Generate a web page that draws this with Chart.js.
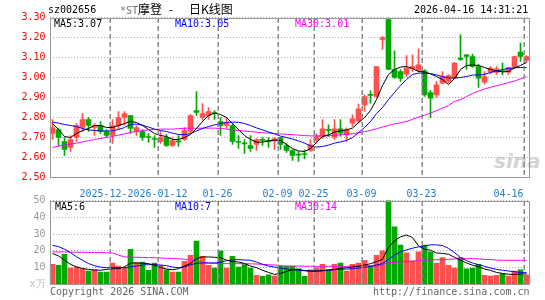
<!DOCTYPE html>
<html><head><meta charset="utf-8">
<script src="https://cdn.jsdelivr.net/npm/chart.js@4/dist/chart.umd.min.js"></script>
<style>
html,body{margin:0;padding:0;background:#fff;}
#wrap{position:relative;width:545px;height:300px;overflow:hidden;background:#fff;}
canvas{position:absolute;left:0;top:0;}
.m{position:absolute;white-space:pre;font-family:"DejaVu Sans Mono",monospace;font-size:10px;line-height:12px;}
.c{position:absolute;white-space:pre;font-family:"Noto Sans CJK SC","DejaVu Sans Mono",sans-serif;font-size:12px;line-height:14px;color:#000;}
</style></head><body>
<div id="wrap">
<div class="m" style="left:494px;top:149px;font-family:'DejaVu Sans',sans-serif;font-size:20px;line-height:24px;font-weight:bold;font-style:italic;color:rgba(200,200,200,0.8)">sina</div>
<canvas id="price" width="545" height="300"></canvas>
<canvas id="vol" width="545" height="300"></canvas>
<div class="m" style="left:48px;top:4px;color:#000">sz002656</div>
<div class="c" style="left:120px;top:2px"><span style="color:#777;font-family:'DejaVu Sans Mono',monospace;font-size:10px">*ST</span>摩登</div>
<div class="c" style="left:169px;top:2px">-</div>
<div class="c" style="left:189px;top:2px">日K线图</div>
<div class="m" style="left:414px;top:4px;color:#000">2026-04-16 14:31:21</div>
<div class="m" style="left:54px;top:17.5px;color:#000">MA5:3.07</div>
<div class="m" style="left:175px;top:17.5px;color:#0000ff">MA10:3.05</div>
<div class="m" style="left:295px;top:17.5px;color:#ff00ff">MA30:3.01</div>
<div class="m" style="left:55px;top:200.5px;color:#000">MA5:6</div>
<div class="m" style="left:175px;top:200.5px;color:#0000ff">MA10:7</div>
<div class="m" style="left:295px;top:200.5px;color:#ff00ff">MA30:14</div>
<div class="m" style="left:50px;top:285.5px;color:#666">Copyright 2026 SINA.COM</div>
<div class="m" style="left:373px;top:285.5px;color:#666">http://finance.sina.com.cn</div>
</div>
<script>
const dates = ['2025-12-15','2025-12-16','2025-12-17','2025-12-18','2025-12-19','2025-12-22','2025-12-23','2025-12-24','2025-12-25','2025-12-26',
'2025-12-29','2025-12-30','2025-12-31','2026-01-05','2026-01-06','2026-01-07','2026-01-08','2026-01-09','2026-01-12','2026-01-13',
'2026-01-14','2026-01-15','2026-01-16','2026-01-19','2026-01-20','2026-01-21','2026-01-22','2026-01-23','2026-01-26','2026-01-27',
'2026-01-28','2026-01-29','2026-01-30','2026-02-02','2026-02-03','2026-02-04','2026-02-05','2026-02-06','2026-02-09','2026-02-10',
'2026-02-11','2026-02-12','2026-02-13','2026-02-24','2026-02-25','2026-02-26','2026-02-27','2026-03-02','2026-03-03','2026-03-04',
'2026-03-05','2026-03-06','2026-03-09','2026-03-10','2026-03-11','2026-03-12','2026-03-13','2026-03-16','2026-03-17','2026-03-18',
'2026-03-19','2026-03-20','2026-03-23','2026-03-24','2026-03-25','2026-03-26','2026-03-27','2026-03-30','2026-03-31','2026-04-01',
'2026-04-02','2026-04-03','2026-04-07','2026-04-08','2026-04-09','2026-04-10','2026-04-13','2026-04-14','2026-04-15','2026-04-16'];

const tickDates = ['2025-12-29','2026-01-12','2026-01-26','2026-02-09','2026-02-25','2026-03-09','2026-03-23','2026-04-16'];
const tickTexts = ['2025-12-29','2026-01-12','01-26','02-09','02-25','03-09','03-23','04-16'];

const opens = [2.72,2.74,2.68,2.65,2.70,2.75,2.79,2.75,2.76,2.73,
2.71,2.76,2.80,2.81,2.73,2.73,2.702,2.695,2.68,2.70,
2.66,2.682,2.69,2.73,2.835,2.80,2.81,2.825,2.78,2.76,
2.76,2.68,2.672,2.66,2.665,2.69,2.685,2.683,2.70,2.66,
2.635,2.615,2.619,2.635,2.685,2.705,2.74,2.70,2.743,2.713,
2.772,2.783,2.863,2.915,2.905,3.19,3.29,3.04,3.03,3.017,
3.043,3.035,3.033,2.925,2.913,2.972,2.98,2.997,3.097,3.113,
3.105,3.055,2.977,3.027,3.025,3.035,3.027,3.052,3.127,3.085];

const highs = [2.79,2.745,2.70,2.71,2.77,2.82,2.80,2.77,2.78,2.74,
2.79,2.83,2.83,2.81,2.76,2.74,2.72,2.71,2.73,2.715,
2.70,2.71,2.75,2.815,2.93,2.87,2.85,2.835,2.80,2.80,
2.77,2.71,2.69,2.71,2.695,2.70,2.70,2.70,2.70,2.67,
2.64,2.63,2.638,2.69,2.72,2.79,2.763,2.79,2.79,2.748,
2.813,2.867,2.913,2.933,3.055,3.205,3.30,3.133,3.04,3.11,
3.113,3.143,3.04,2.935,2.98,3.03,3.013,3.075,3.213,3.115,
3.117,3.067,3.03,3.055,3.055,3.072,3.05,3.107,3.172,3.11];

const lows = [2.69,2.66,2.61,2.63,2.68,2.73,2.73,2.71,2.72,2.70,
2.67,2.74,2.76,2.72,2.71,2.685,2.675,2.65,2.67,2.655,
2.655,2.655,2.685,2.72,2.81,2.785,2.79,2.79,2.71,2.745,
2.665,2.645,2.62,2.63,2.635,2.66,2.65,2.64,2.64,2.625,
2.585,2.58,2.593,2.63,2.672,2.695,2.705,2.69,2.705,2.68,
2.755,2.772,2.83,2.872,2.90,3.14,3.04,2.995,2.98,3.005,
3.03,3.03,2.905,2.80,2.90,2.97,2.972,2.995,3.085,3.04,
3.05,2.95,2.967,3.02,3.015,3.013,3.015,3.047,3.08,3.075];

const closes = [2.75,2.70,2.64,2.69,2.76,2.79,2.76,2.76,2.73,2.71,
2.76,2.80,2.82,2.745,2.75,2.70,2.70,2.69,2.70,2.66,
2.685,2.678,2.735,2.81,2.825,2.82,2.83,2.82,2.76,2.775,
2.68,2.675,2.668,2.645,2.69,2.686,2.681,2.693,2.665,2.635,
2.61,2.612,2.615,2.663,2.705,2.743,2.736,2.743,2.722,2.738,
2.793,2.843,2.905,2.911,3.055,3.20,3.04,3.00,2.995,3.047,
3.055,3.063,2.913,2.897,2.963,3.005,3.01,3.072,3.09,3.105,
3.055,2.997,3.005,3.047,3.043,3.03,3.05,3.105,3.105,3.105];

const ma5 = [2.77,2.74,2.705,2.70,2.72,2.735,2.745,2.76,2.76,2.75,
2.75,2.76,2.77,2.78,2.775,2.76,2.74,2.72,2.71,2.705,
2.69,2.69,2.70,2.715,2.745,2.78,2.81,2.822,2.815,2.80,
2.77,2.74,2.71,2.69,2.677,2.677,2.682,2.687,2.685,2.665,
2.645,2.633,2.63,2.645,2.675,2.705,2.713,2.727,2.733,2.738,
2.747,2.775,2.80,2.835,2.89,2.96,3.015,3.04,3.052,3.055,
3.045,3.03,3.028,3.018,3.005,2.99,2.965,2.995,3.04,3.06,
3.063,3.06,3.05,3.04,3.033,3.028,3.03,3.048,3.06,3.075];

const ma10 = [2.777,2.772,2.765,2.76,2.755,2.745,2.738,2.735,2.733,2.733,
2.733,2.74,2.75,2.765,2.767,2.762,2.752,2.742,2.735,2.73,
2.722,2.715,2.714,2.72,2.733,2.745,2.755,2.763,2.77,2.776,
2.777,2.776,2.77,2.76,2.748,2.738,2.728,2.718,2.707,2.70,
2.692,2.683,2.672,2.658,2.652,2.655,2.662,2.672,2.678,2.685,
2.70,2.724,2.75,2.78,2.82,2.85,2.89,2.925,2.96,2.99,
3.015,3.022,3.022,3.02,3.013,3.005,2.998,2.997,3.0,3.005,
3.012,3.013,3.015,3.025,3.033,3.04,3.045,3.048,3.05,3.05];

const ma30 = [2.65,2.657,2.662,2.667,2.672,2.678,2.684,2.69,2.695,2.70,
2.705,2.712,2.718,2.725,2.73,2.735,2.738,2.74,2.742,2.742,
2.742,2.744,2.746,2.747,2.746,2.747,2.747,2.747,2.745,2.742,
2.738,2.735,2.732,2.73,2.727,2.724,2.722,2.72,2.718,2.716,
2.714,2.712,2.71,2.708,2.708,2.708,2.709,2.711,2.713,2.716,
2.719,2.724,2.729,2.735,2.744,2.752,2.761,2.768,2.774,2.78,
2.791,2.802,2.811,2.822,2.834,2.847,2.86,2.88,2.89,2.905,
2.92,2.932,2.943,2.951,2.959,2.966,2.975,2.982,2.993,3.005];

const volumes = [12,11.4,18,9.8,10.4,9.4,8,8.8,7.4,7.4,
12.8,11,10,21,13,13.4,8.4,12.8,11.4,8.8,
7.4,7.4,13.8,17.4,25.8,16.8,11.4,9.8,20,9.8,
16.8,10.4,11.8,9.8,5.4,4.8,5.8,5,10.8,10.8,
10.8,9.4,4.8,8.8,10,12,8.8,12,12.8,8,
12,12.8,14.4,10.8,17.4,20,56,34.4,23.4,18.8,
14,19.4,23.4,19.4,12.8,16,11.4,9.8,16,9.4,
9.8,12,5.4,5,5.4,6.4,5,8,8.8,5.8];

const volMa5 = [18.5,17,14.5,12,10.5,9.5,9,8.6,8.5,9,
9.4,9.4,10.5,12.8,12.8,12.6,12.4,11.5,10.2,9.2,
8.8,9.4,11,12.5,15.5,16.4,16.4,16.2,16,14.5,
13.6,13.4,12.5,11,10,8.5,7.2,6,6.6,7.8,
8.7,9,8.3,8,8,8.2,8.6,9,9.6,10,
10.4,10.8,11.6,12.4,13.6,15,22,26,28.4,29.4,
28,23,21,20.4,18.8,18.5,18,16.2,14.5,12.8,
11.5,10.6,9.2,8.4,7.2,6.6,6.1,6,6.2,6.4];

const volMa10 = [23.3,22.5,21,19,16.5,14.5,12.5,11.2,10.3,10,
10,10,10,10.5,11,11.6,11.8,11.8,11.6,11.2,
10.4,10,10.5,11.8,12.6,12.8,12.8,12.8,13.2,14.2,
14.6,14.8,14.6,14.4,13.4,12,11,10.4,9.8,9.2,
8.8,8.5,8.2,8,8,8.2,8.5,8.8,9,9.2,
9.4,9.8,10.2,10.8,11.6,12.4,15,17.5,19.5,20.6,
21.6,22.4,23,23.6,23.6,23.2,21.5,19,16,14.2,
12.8,11.8,10.8,9.8,9,8.5,8,7.6,7.2,7];

const volMa30 = [19.4,19.4,19.4,19.3,19.2,19.2,19.1,19,19,18.9,
18.8,17.5,16.4,16.3,16.2,16.1,16,15.9,15.8,15.6,
15.5,15.3,15,14.6,14,13.2,12.8,12.6,12.5,12.4,
12.4,12.4,12.4,12.3,12.2,12,11.8,11.6,11.3,11,
11,11,10.9,10.9,10.8,10.8,10.8,10.8,10.8,10.8,
11,11.2,11.4,11.2,11,11.8,13,13.3,13.5,13.7,
14,14.2,14.4,14.6,14.7,14.8,15,15.2,15.4,15.4,
15.4,15.2,15,14.8,14.6,14.4,14.4,14.4,14.4,14.4];

const RED = '#ff5050', GREEN = '#00a800';
const MONO = 'DejaVu Sans Mono';
const colors = closes.map((c, i) => c >= opens[i] ? RED : GREEN);
const bodies = dates.map((d, i) => [opens[i], closes[i]]);
const wicks = dates.map((d, i) => [lows[i], highs[i]]);
const tickIdx = tickDates.map(d => dates.indexOf(d));

// dashed vertical date grid lines and the plot frame, positioned through the x scale
const frame = {
  id: 'frame',
  afterDraw(chart) {
    const ctx = chart.ctx;
    const a = chart.chartArea;
    const xs = chart.scales.x;
    const step = xs.width / dates.length;
    const l = Math.round(a.left), r = Math.round(a.right), t = Math.round(a.top), b = Math.round(a.bottom);
    ctx.save();
    ctx.globalCompositeOperation = 'source-over';
    ctx.globalAlpha = 1;
    ctx.fillStyle = 'rgb(136,136,136)';
    for (let k = 0; k < tickIdx.length; k++) {
      const px = Math.round(xs.left + step * tickIdx[k]);
      for (let y = t; y < b; y += 8) {
        ctx.fillRect(px - 0.5, y, 1.5, Math.min(5, b - y));
      }
    }
    ctx.restore();
    ctx.save();
    ctx.strokeStyle = '#999999';
    ctx.lineWidth = 1;
    ctx.strokeRect(l + 0.5, t + 0.5, r - l - 1, b - t - 1);
    ctx.restore();
  }
};

const lineDs = (data, color) => ({type: 'line', data, borderColor: color, borderWidth: 1, pointRadius: 0, tension: 0, order: 0, fill: false});

new Chart(document.getElementById('price'), {
  type: 'bar',
  data: {
    labels: dates,
    datasets: [
      lineDs(ma5, '#000000'),
      lineDs(ma10, '#0000ff'),
      lineDs(ma30, '#ff00ff'),
      {data: wicks, backgroundColor: colors, barThickness: 1, grouped: false, order: 2, clip: 0},
      {data: bodies, backgroundColor: colors, barThickness: 5, grouped: false, minBarLength: 1, order: 1, clip: 0}
    ]
  },
  options: {
    responsive: false, animation: false, devicePixelRatio: 1,
    plugins: {legend: {display: false}, tooltip: {enabled: false}},
    layout: {padding: {left: 0, right: 15.5, top: 17.5, bottom: 102.5}},
    scales: {
      x: {
        offset: true,
        grid: {display: false},
        border: {display: false},
        ticks: {
          autoSkip: false, maxRotation: 0, minRotation: 0, align: 'inner', labelOffset: -3, padding: 3,
          color: '#1f7fd0', font: {family: MONO, size: 10},
          showLabelBackdrop: true, backdropColor: '#ffffff', backdropPadding: 0,
          callback: (v, i) => { const k = tickDates.indexOf(dates[i]); return k >= 0 ? tickTexts[k] : ''; }
        },
        afterFit: s => { s.height = 20; }
      },
      y: {
        min: 2.5, max: 3.3,
        ticks: {stepSize: 0.1, color: '#ff0000', padding: 4, font: {family: MONO, size: 10}, callback: v => Number(v).toFixed(2)},
        grid: {color: '#aaaaaa', drawTicks: false},
        border: {display: false, dash: [1, 2]},
        afterFit: s => { s.width = 49.5; }
      }
    }
  },
  plugins: [frame]
});

new Chart(document.getElementById('vol'), {
  type: 'bar',
  data: {
    labels: dates,
    datasets: [
      lineDs(volMa5, '#000000'),
      lineDs(volMa10, '#0000ff'),
      lineDs(volMa30, '#ff00ff'),
      {data: volumes, backgroundColor: colors, barThickness: 5, grouped: false, order: 1, clip: 0}
    ]
  },
  options: {
    responsive: false, animation: false, devicePixelRatio: 1,
    plugins: {legend: {display: false}, tooltip: {enabled: false}},
    layout: {padding: {left: 0, right: 15.5, top: 200.5, bottom: 15.5}},
    scales: {
      x: {
        offset: true,
        grid: {display: false},
        border: {display: false},
        ticks: {display: false},
        afterFit: s => { s.height = 0; }
      },
      y: {
        min: 0, max: 50,
        ticks: {stepSize: 10, padding: 4, font: {family: MONO, size: 10},
          color: c => c.tick && c.tick.value === 0 ? '#bbbbbb' : '#999999',
          callback: v => v === 0 ? 'x万' : String(v)},
        grid: {color: '#aaaaaa', drawTicks: false},
        border: {display: false, dash: [1, 2]},
        afterFit: s => { s.width = 49.5; }
      }
    }
  },
  plugins: [frame]
});
</script>
</body></html>
